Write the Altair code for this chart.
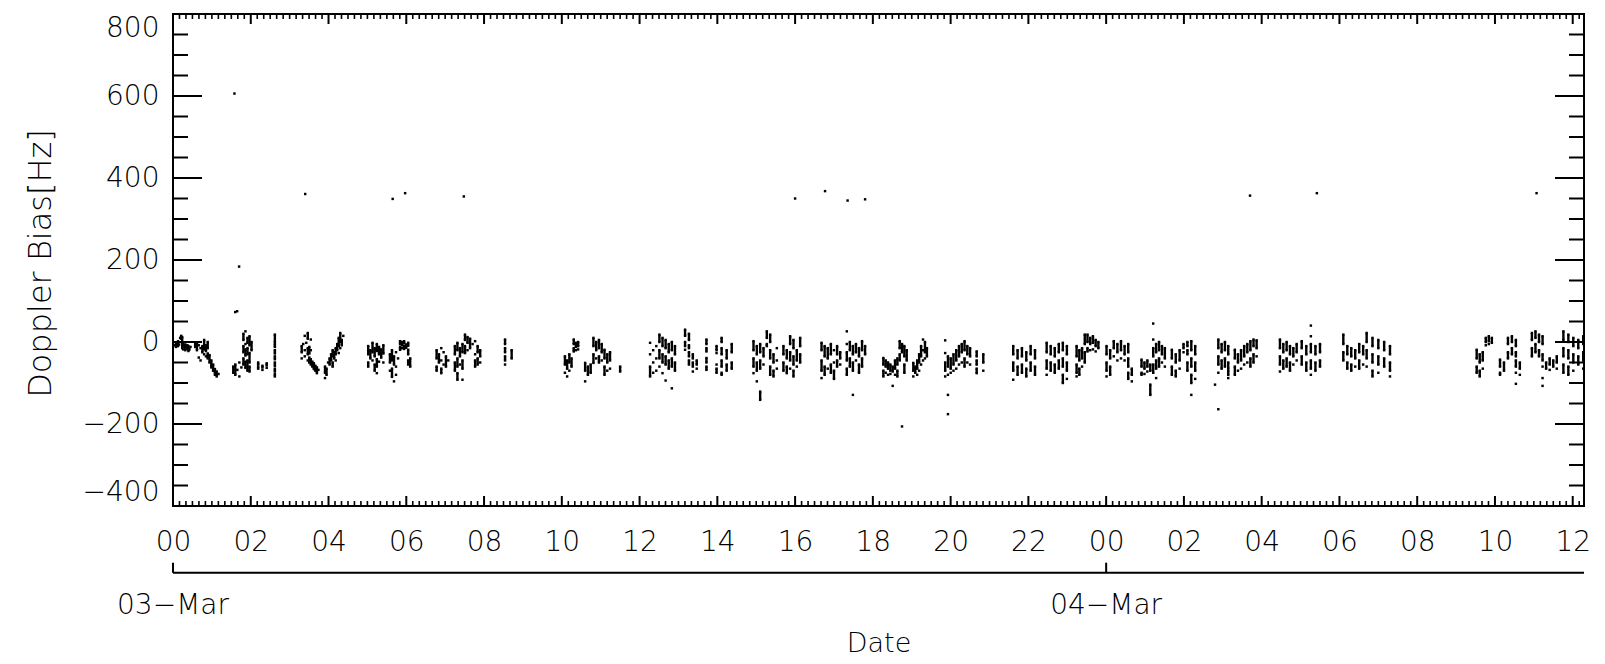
import altair as alt
import pandas as pd
import numpy as np

W, H = 1411, 492
FONT = "DejaVu Sans"

# ---- data: passes (start hour, end hour, Doppler bias values in Hz)
# values are listed column by column: a column is a run of falling values taken at one time
passes = [
    (0.05, 0.45, [-8, -5, -12, -3, 2, -10, -6, 10, 15, 8, 12, -2, -8, -15, -5, -10, -18, -12, -6, -20, -14, -8, -16, -10, -22, -18, -12]),
    (0.57, 1.17, [-5, -12, -2, -20, -8, -38, -15, -45, -10, -25, 5, -18, -30, -8, -22, -35, 0, -15, -28, -40, -32, -50, -45, -58, -62, -55, -70, -66, -75, -80, -72, -84, -78]),
    (1.55, 2.02, [-60, -75, -55, -80, -68, -50, -84, -62, 20, 5, -10, -25, -40, -55, 26, -5, -18, -33, -48, -63, 10, -2, -15, -30, -45, -70, 14, -8, -27, -50, -60, -72, 0, -20]),
    (2.19, 2.41, [-50, -55, -60, -65, -58, -62, -68, -52, -57, -63]),
    (2.62, 2.66, [18, 0, -5, -12, -20, -28, -35, -42, -50, -58, -65, -72, -78, -84]),
    (3.31, 3.74, [-10, -25, -40, -5, 15, -20, -35, -2, 22, 8, -15, -30, -45, -12, -28, -38, -50, 6, -20, -42, -55, -48, -60, -52, -66, -58, -70, -62, -76, -68]),
    (3.91, 4.38, [-60, -75, -88, -65, -80, -50, -40, -55, -30, -45, -20, -35, -50, -60, -25, -40, -15, -30, -45, -5, -20, 10, -10, -27, 22, 0, -15, 5, -8, 15]),
    (5.02, 5.41, [-10, -30, -50, -60, -20, -40, -2, -25, -45, -15, -35, -55, -70, -5, -22, -42, -60, -76, -12, -30, -48, -18, -38, -8, -28, -50]),
    (5.58, 6.10, [-30, -50, -70, -20, -45, -65, -85, -35, -55, -96, -25, -60, -80, -40, 2, -5, -12, -19, 0, -8, -15, 2, -3, -10, -17, -6, -14, -2, -9, -19, -30, -45, -55, -40, -60]),
    (6.78, 7.08, [-20, -40, -60, -70, -30, -50, -15, -45, -65, -76, -25, -55, -35, -60, -45]),
    (7.25, 7.90, [-10, -30, -50, -70, -2, -20, -40, -60, -76, -92, -15, -35, -55, -5, -25, -45, -65, -92, 18, 5, -10, -27, 12, -2, -20, 8, -15, -5, 2, -30, -45, -60, -10, -25, -40, -55, -20, -35, -50]),
    (8.54, 8.71, [6, -5, -15, -25, -35, -45, -55, -20, -40]),
    (10.08, 10.42, [-35, -55, -75, -45, -65, -84, -30, -50, -70, -40, -60, 6, -5, -15, -23, -2, -12, -20, 0, -10, -18]),
    (10.60, 11.24, [-51, -70, -96, -60, -80, -55, -75, 10, -10, -30, -51, 0, -20, -40, 5, -15, -35, -50, -5, -25, -45, -19, -40, -60, -80, -30, -50, -70, -25, -45, -65]),
    (11.50, 11.50, [-60, -72]),
    (12.27, 12.91, [-2, -30, -60, -84, -20, -50, -75, -10, -40, -70, 18, 0, -20, -40, -60, 10, -10, -30, -50, -76, 5, -15, -35, -55, -94, -5, -25, -45, -65, 0, -20, -40, -60, -113, -10, -30, -50, -70]),
    (13.17, 13.47, [30, 15, 0, -10, -19, 20, 5, -8, -15, -25, -35, -45, -55, -30, -40, -50, -60, -72, -45, -55, -65]),
    (13.72, 13.74, [6, -5, -15, -23, -39, -50, -60, -68]),
    (13.98, 14.00, [-10, -20, -27, -55, -65, -75]),
    (14.11, 14.37, [10, 0, -15, -30, -45, -60, -75, -80, -20, -40, -55, -70, -5, -25, -50, -65]),
    (14.93, 15.53, [2, -20, -40, -60, -76, -10, -30, -50, -70, -96, -5, -25, -45, -65, -121, -141, -15, -35, -55, 26, 10, -5, -10, 18, 0, -20, -40, -60, -80, -30, -50, -70, -84, -15, -45, -65]),
    (15.70, 16.13, [-10, -30, -50, -70, -20, -40, -60, -76, 14, -5, -25, -45, -65, 5, -15, -35, -55, -70, -84, -20, -45, -60, 10, -10, -30, -50]),
    (16.68, 17.16, [-2, -20, -45, -70, -88, -10, -35, -60, -80, -15, -40, -65, -5, -30, -55, -75, -20, -50, -70, -90, -10, -30, -45, -60, -25, -40, -55]),
    (17.33, 17.80, [26, -5, -25, -45, -65, -80, 0, -20, -40, -60, -10, -30, -50, -70, -129, -5, -25, -45, -15, -35, -55, -75, 2, -20, -40, -60, -10, -30]),
    (18.27, 18.87, [-39, -55, -70, -84, -45, -60, -75, -50, -65, -80, -55, -70, -78, -60, -72, -107, -45, -65, -80, -40, -55, -70, -84, 2, -15, -30, -45, -5, -25, -206, -10, -35, -55, -75, -20, -45]),
    (19.04, 19.39, [-51, -70, -84, -60, -75, -45, -65, -80, -30, -50, -70, -10, -35, -55, 6, -20, -45, 0, -25, -40, -15, -35]),
    (19.86, 20.50, [4, -27, -50, -70, -84, -35, -60, -80, -129, -176, -40, -65, -75, -30, -55, -70, -20, -45, -65, -10, -35, -55, -5, -25, -50, 2, -20, -40, -60, -10, -30, -50, -15, -35, -55]),
    (20.67, 20.84, [-23, -35, -45, -55, -65, -76, -30, -50, -70]),
    (21.61, 22.17, [-10, -30, -50, -70, -92, -20, -40, -60, -80, -15, -35, -55, -75, -25, -45, -65, -84, -10, -30, -50, -70, -20, -40, -60, -80]),
    (22.47, 22.99, [-2, -25, -45, -65, -80, -10, -30, -50, -70, -15, -35, -55, -75, -5, -25, -45, -65, -2, -20, -40, -60, -80, -100, -10, -30, -50, -70, -90]),
    (23.24, 23.80, [-10, -35, -55, -75, -84, -20, -45, -65, -80, -15, -40, -60, 18, -5, -25, -50, 18, 0, -15, -23, 10, -5, -20, 14, -2, -18, 5, -10, -23, 0, -15]),
    (24.01, 24.66, [-10, -30, -50, -70, -84, -20, -40, -60, -80, 2, -15, -35, -5, -25, -45, 2, -20, -40, -10, -30, -45, -5, -25, -40, -60, -75, -90, -65, -80, -96]),
    (24.91, 25.51, [-43, -60, -75, -80, -50, -65, -78, -45, -60, -72, -55, -70, -104, -129, 45, 6, -15, -35, -55, -75, -5, -25, -45, -65, -88, 0, -20, -40, -60, -10, -30, -50, -15, -40, -60]),
    (25.69, 26.29, [-19, -40, -60, -80, -30, -50, -70, -84, -20, -45, -65, -5, -15, -25, 0, -10, -20, -30, -50, -70, 2, -20, -40, -60, -80, -100, -129, -10, -30, -50, -70, -90]),
    (26.80, 27.14, [-104, 6, -15, -35, -55, -75, -164, -5, -25, -45, -65, 0, -20, -40, -60, -10, -30, -50, -65, -70, -80, -88]),
    (27.31, 27.87, [-19, -40, -60, -80, -30, -50, -70, -20, -45, -65, -10, -35, -55, -5, -25, -50, 2, -20, -40, -60, 6, -10, -30, -50, 4, -15, -35]),
    (28.47, 28.90, [6, -15, -35, -55, -72, -5, -25, -45, -65, 0, -20, -40, -60, -10, -30, -50, -70, -15, -35, -55, -5, -25, -45]),
    (29.03, 29.50, [2, -15, -35, -55, -10, -30, -50, -70, 40, 14, -5, -25, -45, -65, -80, -10, -30, -50, -70, -5, -25, -45, -60]),
    (30.10, 30.61, [18, -5, -25, -45, -10, -30, -50, -65, -15, -35, -55, -70, -20, -40, -60, -5, -25, -45, -65, -10, -30, -55]),
    (30.70, 31.30, [22, 0, -20, -40, -60, 10, -10, -30, -50, -70, -84, 5, -15, -35, -55, -75, 0, -20, -40, -60, -10, -30, -50, -70, -84]),
    (33.53, 33.92, [-19, -40, -60, -75, -30, -50, -70, -84, -25, -45, -65, 10, 0, -8, 14, 2, -5, 10, -2]),
    (34.13, 34.64, [-43, -60, -75, -80, -50, -70, 10, -5, -25, -40, 14, 0, -15, -30, 5, -10, -25, -35, -45, -60, -75, -102, -50, -65, -80]),
    (34.95, 35.59, [22, 5, -15, -35, 26, 10, -5, -25, 18, 0, -20, -35, 14, -5, -30, -45, -60, -88, -107, -50, -65, -40, -55, -68, -45, -60, -35, -50, -65]),
    (35.76, 36.27, [26, 5, -15, -35, -55, -75, 18, 0, -20, -40, -60, -80, 10, -10, -30, -50, -70, 5, -15, -35, -55, 14, -5, -25, -45, -65]),
]

# isolated points (hours since 03-Mar 00:00, Hz)
outlier_hours = [1.58, 1.70, 1.60, 1.65, 3.40, 5.65, 5.97, 7.48, 16.00, 16.77, 17.35, 17.80, 27.70, 29.42, 35.07]
outlier_values = [606, 184, 73, 75, 361, 349, 363, 355, 350, 368, 345, 348, 357, 363, 363]

# axis ticks and labels
x_domain = [0, 36.29]
y_domain = [-400, 800]
hour_ticks = list(range(0, 37, 2))
hour_labels = ["00", "02", "04", "06", "08", "10", "12", "14", "16", "18", "20", "22",
               "00", "02", "04", "06", "08", "10", "12"]
hour_minor = [k / 6 for k in range(0, 218) if k % 12]
y_ticks = [-400, -200, 0, 200, 400, 600, 800]
y_labels = ["\u2212400", "\u2212200", "0", "200", "400", "600", "800"]
y_minor = [v for v in range(-400, 801, 50) if v % 200]
day_hours = [0, 24]
day_labels = ["03\u2212Mar", "04\u2212Mar"]

# split each pass into columns (runs of falling values) placed at successive times;
# neighbouring samples of a column are joined pairwise into short dashes
pts, segs = [], []
for start, end, vals in passes:
    cols = [[vals[0]]]
    for a in vals[1:]:
        if a > cols[-1][-1]:
            cols.append([a])
        else:
            cols[-1].append(a)
    ts = np.linspace(start, end, len(cols))
    for t, col in zip(ts, cols):
        for v in col:
            pts.append((t, v))
        for i in range(0, len(col) - 1, 2):
            a, b = col[i], col[i + 1]
            if a - b <= 25:
                segs.append((t, a, b))
pts += list(zip(outlier_hours, outlier_values))
df = pd.DataFrame(pts, columns=["h", "v"])
sdf = pd.DataFrame(segs, columns=["h", "v", "v2"])

xs = alt.Scale(domain=x_domain, nice=False, zero=False)
ys = alt.Scale(domain=y_domain, nice=False, zero=False)

hour_expr = "[" + ",".join(f"'{s}'" for s in hour_labels) + "][round(datum.value/2)]"
y_expr = "[" + ",".join(f"'{s}'" for s in y_labels) + "][round((datum.value+400)/200)]"

x_axis = alt.Axis(values=hour_ticks, labelExpr=hour_expr, tickSize=0, domain=False, grid=False,
                  labelFont=FONT, labelFontSize=28, labelFontWeight=200, labelColor="black",
                  labelPadding=22, labelOverlap=False, labelFlush=False,
                  title="Date", titleFont=FONT, titleFontSize=27, titleFontWeight=200,
                  titleColor="black", titleX=W / 2, titleY=137, titleBaseline="middle")
y_axis = alt.Axis(values=y_ticks, labelExpr=y_expr, tickSize=0, domain=False, grid=False,
                  labelFont=FONT, labelFontSize=28, labelFontWeight=200, labelColor="black",
                  labelPadding=14, labelOverlap=False, labelFlush=True, labelFlushOffset=0,
                  title="Doppler Bias[Hz]", titleFont=FONT, titleFontSize=32, titleFontWeight=200,
                  titleColor="black", titleX=-133, titleY=H / 2 + 3, titleAngle=270,
                  titleBaseline="middle", titleAlign="center")

points = alt.Chart(df).mark_square(size=6, color="black", opacity=1, strokeWidth=0).encode(
    x=alt.X("h:Q", scale=xs, axis=x_axis),
    y=alt.Y("v:Q", scale=ys, axis=y_axis),
)
streaks = alt.Chart(sdf).mark_rule(color="black", strokeWidth=2.4).encode(
    x=alt.X("h:Q", scale=xs), y=alt.Y("v:Q", scale=ys), y2="v2:Q")

ydf_major = pd.DataFrame({"v": y_ticks})
ydf_minor = pd.DataFrame({"v": y_minor})
xdf_major = pd.DataFrame({"h": hour_ticks})
xdf_minor = pd.DataFrame({"h": hour_minor})

def yrule(d, x1, x2):
    return alt.Chart(d).mark_rule(color="black", strokeWidth=2).encode(
        y=alt.Y("v:Q", scale=ys), x=alt.value(x1), x2=alt.value(x2))

def xrule(d, y1, y2, sw=2):
    return alt.Chart(d).mark_rule(color="black", strokeWidth=sw).encode(
        x=alt.X("h:Q", scale=xs), y=alt.value(y1), y2=alt.value(y2))

ticks = [
    yrule(ydf_major, 0, 29), yrule(ydf_minor, 0, 15),
    yrule(ydf_major, W - 29, W), yrule(ydf_minor, W - 15, W),
    xrule(xdf_major, H, H - 10), xrule(xdf_minor, H, H - 5, 1.6),
    xrule(xdf_major, 0, 10), xrule(xdf_minor, 0, 5, 1.6),
]

DAY_Y = 558.7
day_df = pd.DataFrame({"h": day_hours, "label": day_labels})
day_line = alt.Chart(pd.DataFrame({"h": [0]})).mark_rule(color="black", strokeWidth=2).encode(
    x=alt.value(0), x2=alt.value(W), y=alt.value(DAY_Y))
day_ticks = alt.Chart(day_df).mark_rule(color="black", strokeWidth=2).encode(
    x=alt.X("h:Q", scale=xs), y=alt.value(DAY_Y - 10), y2=alt.value(DAY_Y))
day_text = alt.Chart(day_df).mark_text(font=FONT, fontSize=28, fontWeight=200, color="black",
                                       baseline="middle", align="center").encode(
    x=alt.X("h:Q", scale=xs), y=alt.value(592), text="label:N")

chart = alt.layer(points, streaks, *ticks, day_line, day_ticks, day_text).properties(
    width=W, height=H,
    autosize=alt.AutoSizeParams(type="none"),
    padding={"left": 165, "top": 6, "right": 13, "bottom": 150},
    background="white",
).configure_view(stroke="black", strokeWidth=2)

chart.save("out.html", embed_options={"renderer": "svg", "actions": False})
